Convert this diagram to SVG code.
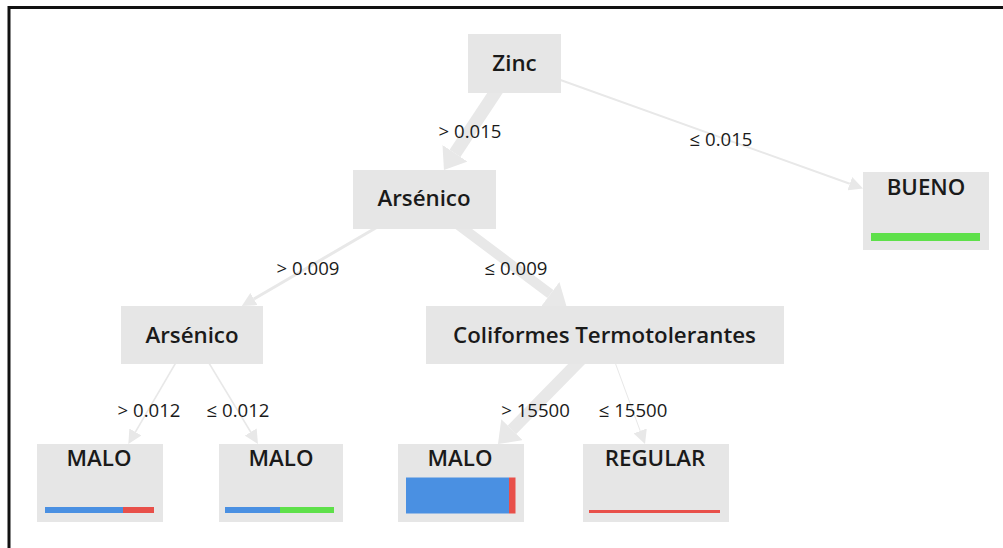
<svg xmlns="http://www.w3.org/2000/svg" width="1003" height="548" viewBox="0 0 1003 548">
<style>
.node rect.box{fill:#e6e6e6}
.nl{font-family:"Open Sans","Noto Sans",sans-serif;font-weight:600;font-size:22.3px;fill:#1a1a1a;text-anchor:middle}
.el{font-family:"Open Sans","Noto Sans",sans-serif;font-size:18.6px;fill:#1a1a1a;text-anchor:middle}
.edge{stroke:#e8e8e8;fill:none;stroke-linecap:butt}
.blue{fill:#4a90e2}
.red{fill:#e8504a}
.green{fill:#5ee04a}
</style>
<defs>
<marker id="aS" markerUnits="userSpaceOnUse" markerWidth="16" markerHeight="14" refX="0" refY="7" orient="auto" viewBox="0 0 16 14">
<path d="M0,0 L14,7 L0,14 Z" fill="#e8e8e8"/>
</marker>
<marker id="aL" markerUnits="userSpaceOnUse" markerWidth="22" markerHeight="30" refX="0" refY="15" orient="auto" viewBox="0 0 22 30">
<path d="M0,0 L20,15 L0,30 Z" fill="#e8e8e8"/>
</marker>
</defs>
<rect x="0" y="0" width="1003" height="548" fill="#ffffff"/>
<path d="M9,548 L9,7.5 L1003,7.5" fill="none" stroke="#111111" stroke-width="3"/>
<g id="connectors">
<line class="edge" x1="514.5" y1="63.5" x2="455" y2="153.3" stroke-width="13" marker-end="url(#aL)"/>
<line class="edge" x1="514.5" y1="63.5" x2="849.8" y2="183.7" stroke-width="2" marker-end="url(#aS)"/>
<line class="edge" x1="424.5" y1="199.5" x2="253.9" y2="299" stroke-width="3" marker-end="url(#aS)"/>
<line class="edge" x1="424.5" y1="199.5" x2="550.4" y2="294" stroke-width="10" marker-end="url(#aL)"/>
<line class="edge" x1="192" y1="335" x2="135.4" y2="432" stroke-width="1.5" marker-end="url(#aS)"/>
<line class="edge" x1="192" y1="335" x2="250.7" y2="432" stroke-width="1.5" marker-end="url(#aS)"/>
<line class="edge" x1="605" y1="335" x2="512" y2="429.7" stroke-width="12" marker-end="url(#aL)"/>
<line class="edge" x1="605" y1="335" x2="640.2" y2="430.9" stroke-width="1" marker-end="url(#aS)"/>
<text class="el" x="470" y="138">&gt; 0.015</text>
<text class="el" x="721" y="146">≤ 0.015</text>
<text class="el" x="308" y="275">&gt; 0.009</text>
<text class="el" x="516" y="275">≤ 0.009</text>
<text class="el" x="149" y="417">&gt; 0.012</text>
<text class="el" x="238" y="417">≤ 0.012</text>
<text class="el" x="535.5" y="417">&gt; 15500</text>
<text class="el" x="633" y="417">≤ 15500</text>
</g>
<g id="node-zinc" class="node">
<rect class="box" x="468" y="34" width="93" height="59"/>
<text class="nl" x="514.5" y="71">Zinc</text>
</g>
<g id="node-arsenico-1" class="node">
<rect class="box" x="353" y="170" width="143" height="59"/>
<text class="nl" x="424" y="206">Arsénico</text>
</g>
<g id="node-bueno" class="node">
<rect class="box" x="863" y="172" width="126" height="78"/>
<text class="nl" x="926" y="195">BUENO</text>
<rect class="green" x="871" y="233" width="109" height="8"/>
</g>
<g id="node-arsenico-2" class="node">
<rect class="box" x="121" y="306" width="142" height="58"/>
<text class="nl" x="192" y="343">Arsénico</text>
</g>
<g id="node-coliformes" class="node">
<rect class="box" x="426" y="306" width="358" height="58"/>
<text class="nl" x="604.5" y="343">Coliformes Termotolerantes</text>
</g>
<g id="node-malo-1" class="node">
<rect class="box" x="37" y="444" width="126" height="78"/>
<text class="nl" x="99" y="466">MALO</text>
<rect class="blue" x="45" y="507" width="78" height="6"/>
<rect class="red" x="123" y="507" width="31" height="6"/>
</g>
<g id="node-malo-2" class="node">
<rect class="box" x="219" y="444" width="124" height="78"/>
<text class="nl" x="281" y="466">MALO</text>
<rect class="blue" x="225" y="507" width="55" height="6"/>
<rect class="green" x="280" y="507" width="54" height="6"/>
</g>
<g id="node-malo-3" class="node">
<rect class="box" x="398" y="444" width="126" height="78"/>
<text class="nl" x="460" y="466">MALO</text>
<rect class="blue" x="406" y="477.5" width="103" height="36"/>
<rect class="red" x="509" y="477.5" width="6.5" height="36"/>
</g>
<g id="node-regular" class="node">
<rect class="box" x="583" y="444" width="146" height="78"/>
<text class="nl" x="655" y="466">REGULAR</text>
<rect class="red" x="589" y="510" width="131" height="3"/>
</g>
</svg>
